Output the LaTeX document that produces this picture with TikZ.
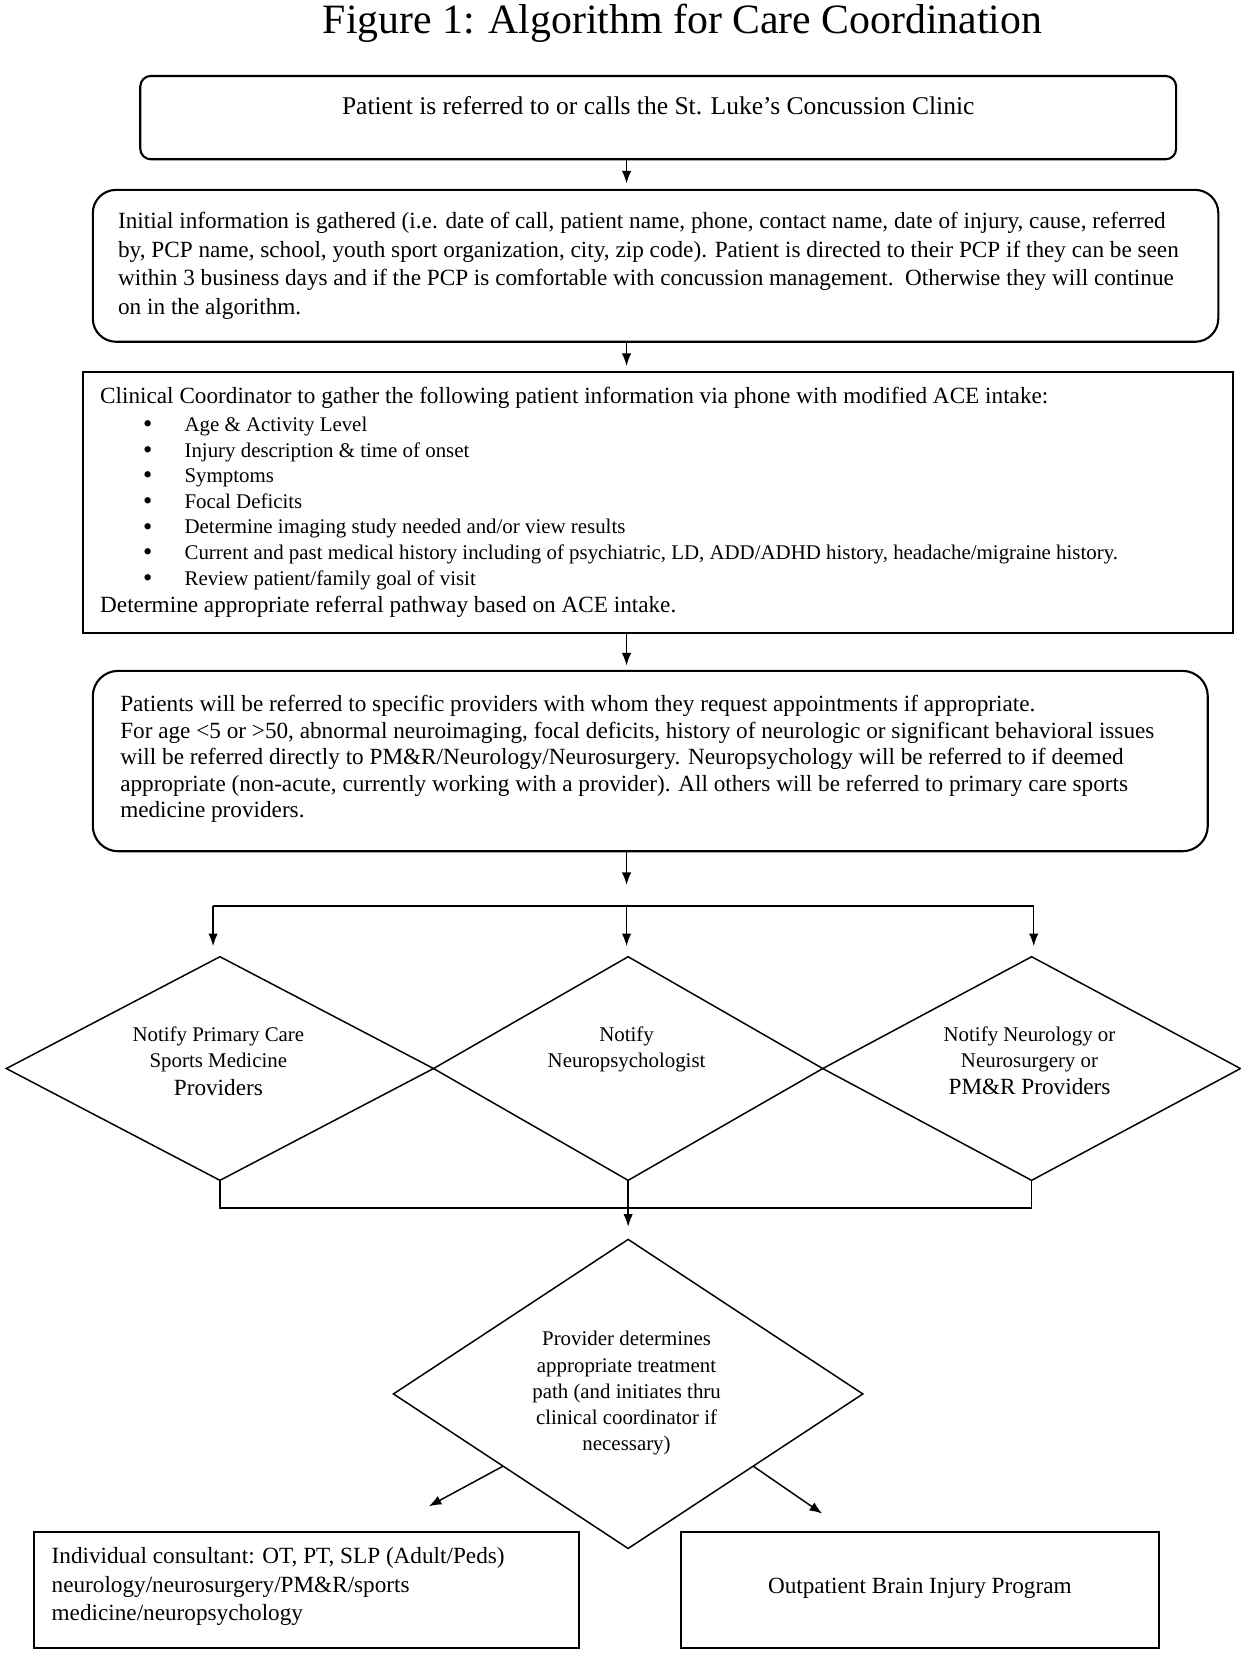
\documentclass[tikz,border=0pt]{standalone}
\usepackage{fontspec}
\setmainfont{Liberation Serif}
\usetikzlibrary{shapes.geometric,arrows.meta}
\begin{document}
\begin{tikzpicture}[x=0.5pt,y=-0.5pt,
  boxr/.style={draw, line width=1pt, inner sep=0pt, outer sep=0pt},
  dia/.style={draw, diamond, line width=0.7pt, inner sep=0pt, outer sep=0pt, aspect=1},
  conn/.style={line width=0.7pt},
  arr/.style={line width=0.7pt, -{Latex[length=6pt,width=4.5pt]}},
  txt/.style={inner sep=0pt, outer sep=0pt},
  ftwelve/.style={font=\fontsize{12.1}{13.6}\selectfont},
  feleven/.style={font=\fontsize{11}{12.6}\selectfont},
  ften/.style={font=\fontsize{9.9}{12.3}\selectfont},
  fbullet/.style={font=\fontsize{12.5}{12.5}\selectfont}
]
\useasboundingbox (0,0) rectangle (1176,1569);

% title
\node[txt, font=\fontsize{19.8}{22}\selectfont, anchor=base] (title) at (647,31.6) {Figure 1: Algorithm for Care Coordination};

% boxes
\node[boxr, rounded corners=5pt, minimum width=491pt, minimum height=39.5pt] (b1) at (624,111.5) {};
\node[boxr, rounded corners=11pt, minimum width=533.5pt, minimum height=72pt] (b2) at (621.5,252) {};
\node[boxr, minimum width=545pt, minimum height=123.5pt] (b3) at (624,476.5) {};
\node[boxr, rounded corners=12pt, minimum width=528.5pt, minimum height=85.5pt] (b4) at (616.5,721.5) {};
\node[boxr, minimum width=258.5pt, minimum height=55pt] (b6) at (290.5,1507.5) {};
\node[boxr, minimum width=226.5pt, minimum height=55pt] (b7) at (872,1507.5) {};

% diamonds
\node[dia, minimum width=202.5pt, minimum height=106pt] (d1) at (208.5,1013) {};
\node[dia, minimum width=184.5pt, minimum height=106pt] (d2) at (595.5,1013) {};
\node[dia, minimum width=198pt, minimum height=106pt] (d3) at (978,1013) {};
\node[dia, minimum width=222.5pt, minimum height=146.5pt] (d5) at (595.5,1321.5) {};

% box 1 text
\node[txt, ftwelve, anchor=base] (t1) at (624,109) {Patient is referred to or calls the St. Luke’s Concussion Clinic};

% box 2 text
\foreach \t [count=\i from 0] in {
  {Initial information is gathered (i.e. date of call, patient name, phone, contact name, date of injury, cause, referred},
  {by, PCP name, school, youth sport organization, city, zip code). Patient is directed to their PCP if they can be seen},
  {within 3 business days and if the PCP is comfortable with concussion management.\ \ Otherwise they will continue},
  {on in the algorithm.}}
  \node[txt, feleven, anchor=base west] (t2l\i) at (112,216.5+27.3*\i) {\t};

% box 3 text
\node[txt, feleven, anchor=base west] (t3a) at (95,383) {Clinical Coordinator to gather the following patient information via phone with modified ACE intake:};
\foreach \t [count=\i from 0] in {
  {Age \& Activity Level},
  {Injury description \& time of onset},
  {Symptoms},
  {Focal Deficits},
  {Determine imaging study needed and/or view results},
  {Current and past medical history including of psychiatric, LD, ADD/ADHD history, headache/migraine history.},
  {Review patient/family goal of visit}}
  {
  \node[txt, fbullet, anchor=base] (t3b\i) at (140,410+24.3*\i) {•};
  \node[txt, ften, anchor=base west] (t3i\i) at (175,409+24.3*\i) {\t};
  }
\node[txt, feleven, anchor=base west] (t3z) at (95,580.5) {Determine appropriate referral pathway based on ACE intake.};

% box 4 text
\foreach \t [count=\i from 0] in {
  {Patients will be referred to specific providers with whom they request appointments if appropriate.},
  {For age <5 or >50, abnormal neuroimaging, focal deficits, history of neurologic or significant behavioral issues},
  {will be referred directly to PM\&R/Neurology/Neurosurgery. Neuropsychology will be referred to if deemed},
  {appropriate (non-acute, currently working with a provider). All others will be referred to primary care sports},
  {medicine providers.}}
  \node[txt, feleven, anchor=base west] (t4l\i) at (114,674.5+25.2*\i) {\t};

% diamond texts
\node[txt, ften, anchor=base] (d1a) at (207,987) {Notify Primary Care};
\node[txt, ften, anchor=base] (d1b) at (207,1012) {Sports Medicine};
\node[txt, feleven, anchor=base] (d1c) at (207,1038.5) {Providers};
\node[txt, ften, anchor=base] (d2a) at (594,987) {Notify};
\node[txt, ften, anchor=base] (d2b) at (594,1012) {Neuropsychologist};
\node[txt, ften, anchor=base] (d3a) at (976,987) {Notify Neurology or};
\node[txt, ften, anchor=base] (d3b) at (976,1012) {Neurosurgery or};
\node[txt, feleven, anchor=base] (d3c) at (976,1038) {PM\&R Providers};

\foreach \t [count=\i from 0] in {
  {Provider determines},
  {appropriate treatment},
  {path (and initiates thru},
  {clinical coordinator if},
  {necessary)}}
  \node[txt, ften, anchor=base] (d5l\i) at (594,1276+24.7*\i) {\t};

% box 6 and 7 text
\foreach \t [count=\i from 0] in {
  {Individual consultant: OT, PT, SLP (Adult/Peds)},
  {neurology/neurosurgery/PM\&R/sports},
  {medicine/neuropsychology}}
  \node[txt, feleven, anchor=base west] (t6l\i) at (49,1482.5+27*\i) {\t};
\node[txt, feleven, anchor=base] (t7) at (872,1510.5) {Outpatient Brain Injury Program};

% connectors
\coordinate (col) at (594,0);
\draw[arr, shorten >=3pt] (b1.south -| col) -- (b2.north -| col);
\draw[arr, shorten >=3pt] (b2.south -| col) -- (b3.north -| col);
\draw[arr, shorten >=2.5pt] (b3.south -| col) -- (b4.north -| col);
\coordinate (a4end) at (594,839);
\draw[arr] (b4.south -| col) -- (a4end);

\coordinate (jl) at (202,859);
\coordinate (jm) at (594,859);
\coordinate (jr) at (980,859);
\draw[conn] (jl) -- (jr);
\draw[arr, shorten >=5pt] (jl) -- (jl |- d1.north);
\draw[arr, shorten >=5pt] (jm) -- (jm |- d2.north);
\draw[arr, shorten >=5pt] (jr) -- (jr |- d3.north);

\coordinate (bj) at (594,1145);
\draw[conn] (d1.south) -- (d1.south |- bj) -- (d3.south |- bj) -- (d3.south);
\draw[arr, shorten >=6pt] (d2.south) -- (d5.north);

\coordinate (lend) at (406.5,1428);
\coordinate (rend) at (779.5,1435);
\draw[arr] (d5.210) -- (lend);
\draw[arr] (d5.330) -- (rend);
\end{tikzpicture}
\end{document}
